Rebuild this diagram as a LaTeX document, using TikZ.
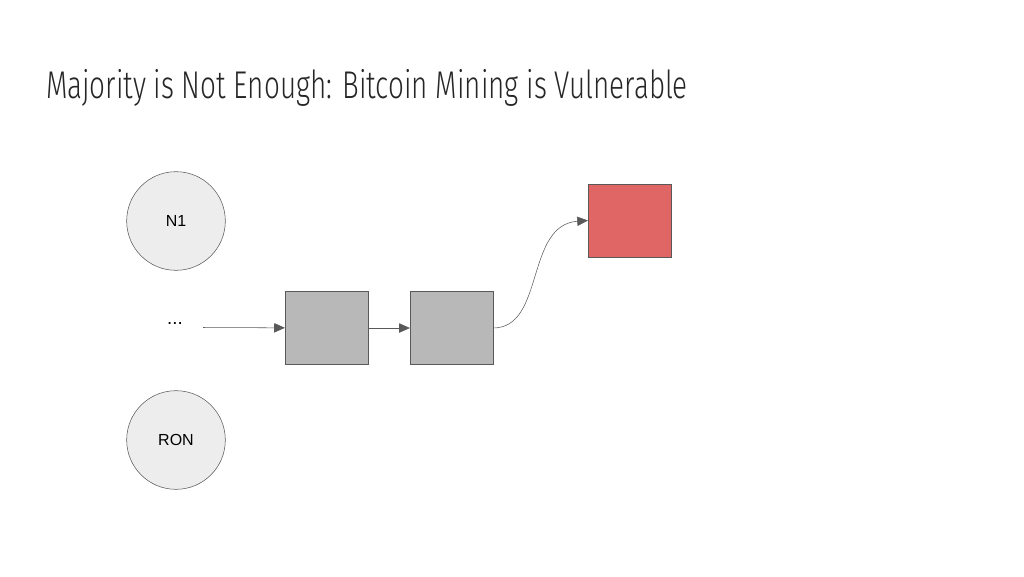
\documentclass[tikz,border=0pt]{standalone}
\usepackage{fontspec}
\setmainfont{Liberation Sans}
\newfontfamily\titlefont[FakeStretch=0.72]{Fira Sans Light}
\usetikzlibrary{arrows.meta}
\definecolor{edge}{HTML}{595959}
\begin{document}
\begin{tikzpicture}[x=0.75pt,y=-0.75pt,
  circ/.style={circle,draw=edge,fill=black!7,minimum size=74pt,inner sep=0pt,font=\fontsize{12}{14}\selectfont},
  blk/.style={draw=edge,fill=black!28,minimum width=62pt,minimum height=55pt,inner sep=0pt},
  conn/.style={draw=edge,-{Triangle[length=8pt,width=7pt]}}]
\useasboundingbox (0,0) rectangle (1024,576);
\node[anchor=base west,inner sep=0pt,font=\titlefont\fontsize{29}{34}\selectfont,text=black!85] (title) at (46,98) {Majority is Not Enough: Bitcoin Mining is Vulnerable};
\node[circ] (n1) at (176,221) {N1};
\node[circ] (ron) at (176,440) {RON};
\node[font=\fontsize{14}{16}\selectfont] (dots) at (175,323) {...};
\coordinate (s) at (203,327.5);
\node[blk] (b1) at (326.5,328) {};
\node[blk] (b2) at (451.5,328) {};
\node[blk,fill=red!60!white,fill={rgb,255:red,224;green,102;blue,102}] (r) at (629.5,220.5) {};
\draw[conn] (s) -- (b1);
\draw[conn] (b1) -- (b2);
\draw[conn] (b2.east) .. controls (545,328) and (525,225) .. (r.west);
\end{tikzpicture}
\end{document}
